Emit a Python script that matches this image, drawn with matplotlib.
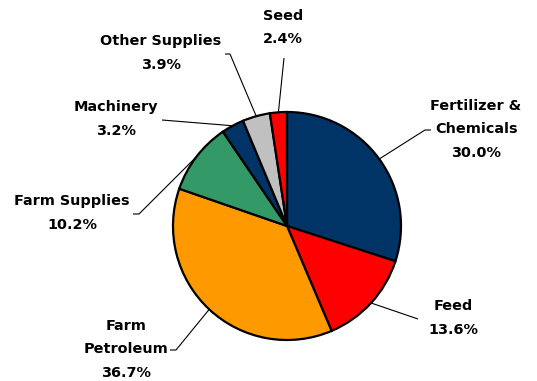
import numpy as np
import matplotlib.pyplot as plt

# input cost shares, clockwise from 12 o'clock
categories = ["Fertilizer &\nChemicals", "Feed", "Farm\nPetroleum", "Farm Supplies",
              "Machinery", "Other Supplies", "Seed"]
shares = [30.0, 13.6, 36.7, 10.2, 3.2, 3.9, 2.4]
colors = ["#003366", "#FF0000", "#FF9900", "#339966", "#003366", "#C0C0C0", "#FF0000"]

W, H = 537, 381
fig = plt.figure(figsize=(W / 100, H / 100), dpi=100)
ax = fig.add_axes([0, 0, 1, 1])

cx, cy, r = 287, H - 226, 114
wedges, _ = ax.pie(shares, colors=colors, startangle=90, counterclock=False,
                   center=(cx, cy), radius=r, frame=True,
                   wedgeprops=dict(edgecolor="black", linewidth=1.6))
ax.set_xlim(0, W)
ax.set_ylim(0, H)
ax.set_aspect("equal")
ax.axis("off")

# label first-line centre (x, y from top), elbow and stub end of each leader
layout = [
    dict(xy=(476, 106), elbow=(425, 130), stub=(431, 130)),
    dict(xy=(453, 307), elbow=(418, 319), stub=(418, 319)),
    dict(xy=(126, 326), elbow=(176, 350), stub=(170, 350)),
    dict(xy=(72, 202), elbow=(139, 214), stub=(133, 214)),
    dict(xy=(116, 108), elbow=(162, 120), stub=(162, 120)),
    dict(xy=(161, 42), elbow=(230, 54), stub=(225, 54)),
    dict(xy=(283, 16), elbow=(284, 58), stub=(284, 58)),
]

for w, name, val, lay in zip(wedges, categories, shares, layout):
    mid = np.deg2rad((w.theta1 + w.theta2) / 2)
    px, py = cx + r * np.cos(mid), cy + r * np.sin(mid)
    ex, ey = lay["elbow"]
    sx, sy = lay["stub"]
    ax.plot([px, ex, sx], [py, H - ey, H - sy], color="black", lw=0.8,
            solid_capstyle="butt", zorder=1)
    lx, ly = lay["xy"]
    ax.text(lx, H - ly + 7.5, f"{name}\n{val:.1f}%", ha="center", va="top",
            fontsize=10.4, fontweight="bold", family="DejaVu Sans",
            linespacing=1.9)

fig.savefig("out.png", dpi=100)
